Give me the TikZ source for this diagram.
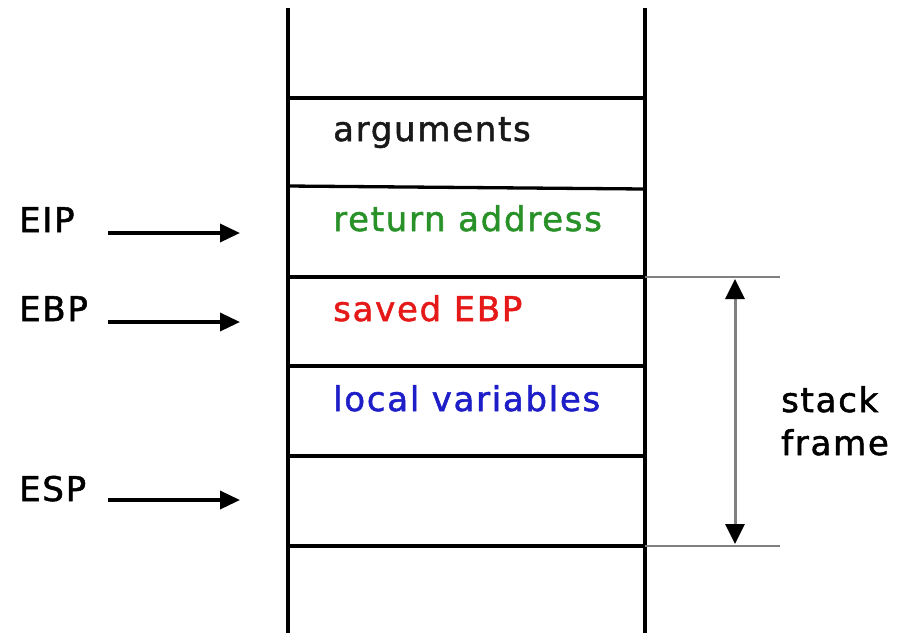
\documentclass[tikz,border=0pt]{standalone}
\usepackage{fontspec}
\setmainfont{DejaVu Sans}[LetterSpace=5,FakeBold=1.5]
\usetikzlibrary{arrows.meta}
\definecolor{argblack}{RGB}{25,25,25}
\definecolor{retgreen}{RGB}{40,145,40}
\definecolor{ebpred}{RGB}{230,25,25}
\definecolor{locblue}{RGB}{30,30,200}
\definecolor{framegray}{RGB}{128,128,128}
\tikzset{
  txt/.style={font=\fontsize{34}{40}\selectfont, inner sep=0pt, anchor=base west},
  stackline/.style={line width=3.3pt, black},
  regarrow/.style={line width=3.5pt, -{Triangle[length=20pt,width=18pt]}},
  grayline/.style={line width=2.2pt, framegray},
  framearrow/.style={line width=3pt, framegray, {Triangle[length=20pt,width=19pt,black]}-{Triangle[length=20pt,width=19pt,black]}}
}
\begin{document}
\begin{tikzpicture}[x=1pt,y=-1pt]
\useasboundingbox (0,0) rectangle (909,633);
% stack walls
\coordinate (wlt) at (288,8);
\coordinate (wlb) at (288,633);
\coordinate (wrt) at (645,8);
\coordinate (wrb) at (645,633);
\draw[stackline] (wlt) -- (wlb);
\draw[stackline] (wrt) -- (wrb);
% horizontal separators
\coordinate (l1a) at (288,98);  \coordinate (l1b) at (645,98);
\coordinate (l2a) at (288,186); \coordinate (l2b) at (645,189);
\coordinate (l3a) at (288,277); \coordinate (l3b) at (645,277);
\coordinate (l4a) at (288,366); \coordinate (l4b) at (645,366);
\coordinate (l5a) at (288,456); \coordinate (l5b) at (645,456);
\coordinate (l6a) at (288,546); \coordinate (l6b) at (645,546);
\draw[stackline] (l1a) -- (l1b);
\draw[stackline] (l2a) -- (l2b);
\draw[stackline] (l3a) -- (l3b);
\draw[stackline] (l4a) -- (l4b);
\draw[stackline] (l5a) -- (l5b);
\draw[stackline] (l6a) -- (l6b);
% cell texts
\node[txt, text=argblack] (args) at (333,141) {arguments};
\node[txt, text=retgreen] (ret) at (333,231) {return address};
\node[txt, text=ebpred] (sebp) at (333,321) {saved EBP};
\node[txt, text=locblue] (locv) at (333,411) {local variables};
% registers
\node[txt] (eip) at (19,232) {EIP};
\node[txt] (ebp) at (19,321) {EBP};
\node[txt] (esp) at (19,501) {ESP};
\coordinate (eipa) at (108,233); \coordinate (eipb) at (240,233);
\coordinate (ebpa) at (108,322); \coordinate (ebpb) at (240,322);
\coordinate (espa) at (108,500); \coordinate (espb) at (240,500);
\draw[regarrow] (eipa) -- (eipb);
\draw[regarrow] (ebpa) -- (ebpb);
\draw[regarrow] (espa) -- (espb);
% stack frame
\coordinate (gt1) at (645,277); \coordinate (gt2) at (780,277);
\coordinate (gb1) at (645,546); \coordinate (gb2) at (780,546);
\draw[grayline] (gt1) -- (gt2);
\draw[grayline] (gb1) -- (gb2);
\coordinate (fa) at (735,279);
\coordinate (fb) at (735,544);
\draw[framearrow] (fa) -- (fb);
\node[txt] (stk) at (781,412) {stack};
\node[txt] (frm) at (781,455) {frame};
\end{tikzpicture}
\end{document}
